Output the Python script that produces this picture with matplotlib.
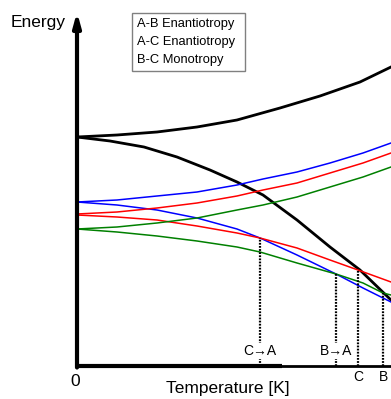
import numpy as np
import matplotlib.pyplot as plt
from matplotlib.patches import Rectangle

plt.rcParams['font.family'] = ['Liberation Sans', 'DejaVu Sans']

# curves (temperature, energy), arbitrary units
liqH_T = [0, 40, 80, 120, 160, 203, 243, 283, 314]
liqH_E = [229, 231, 234, 239, 246, 258, 270, 284, 299]
liqG_T = [0, 33, 67, 100, 133, 160, 186, 220, 253, 283, 314]
liqG_E = [229, 225, 219, 209, 196, 184, 171, 146, 119, 96, 66]

solH_T = [0, 40, 80, 120, 160, 186, 220, 253, 286, 314]
aH_E = [164, 166, 170, 174, 181, 187, 194, 203, 213, 223]
cH_E = [152, 154, 158, 163, 170, 176, 183, 193, 203, 213]
bH_E = [137, 139, 143, 148, 156, 161, 169, 179, 189, 199]

aG_T = [0, 40, 80, 120, 160, 183, 220, 259, 286, 314]
aG_E = [164, 161, 156, 148, 137, 128, 111, 92, 78, 64]
cG_T = [0, 40, 80, 120, 160, 183, 220, 253, 281, 314]
cG_E = [151, 149, 146, 140, 133, 128, 118, 106, 96, 84]
bG_T = [0, 40, 80, 120, 160, 183, 220, 259, 286, 306, 314]
bG_E = [137, 134, 130, 125, 119, 114, 103, 92, 83, 73, 71]

# transition temperatures and the energy where the dotted drop lines start
trans_T = [183, 259, 281, 306]
trans_E = [128, 92, 96, 73]
trans_lbl = ["C\u2192A", "B\u2192A"]
melt_lbl = ["C", "B"]
legend_lines = ["A-B Enantiotropy", "A-C Enantiotropy", "B-C Monotropy"]

fig = plt.figure(figsize=(3.91, 3.99), dpi=100)
ax = fig.add_axes([77/391, 33/399, 314/391, 354/399])
ax.set_xlim(0, 314)
ax.set_ylim(0, 354)
ax.axis("off")

ax.plot(liqH_T, liqH_E, color="black", lw=2.0)
ax.plot(liqG_T, liqG_E, color="black", lw=2.0)
ax.plot(solH_T, aH_E, color="#0000ff", lw=1.1)
ax.plot(aG_T, aG_E, color="#0000ff", lw=1.1)
ax.plot(solH_T, cH_E, color="#ff0000", lw=1.1)
ax.plot(cG_T, cG_E, color="#ff0000", lw=1.1)
ax.plot(solH_T, bH_E, color="#008000", lw=1.1)
ax.plot(bG_T, bG_E, color="#008000", lw=1.1)

for t, e in zip(trans_T, trans_E):
    ax.plot([t, t], [0, e], color="black", lw=1.6, ls=(0, (0.8, 0.6)))

# axes
ax.plot([0, 205], [0, 0], color="black", lw=3, clip_on=False, solid_capstyle="butt")
ax.plot([205, 314], [0, 0], color="black", lw=2, clip_on=False)
ax.annotate("", xy=(0, 354), xytext=(0, -1.5),
            arrowprops=dict(arrowstyle="-|>,head_width=0.22,head_length=0.8",
                            color="black", lw=3, shrinkA=0, shrinkB=0),
            annotation_clip=False)

ax.text(-39, 344, "Energy", fontsize=12.5, ha="center", va="center", clip_on=False)
ax.text(-2, -15, "0", fontsize=12.5, ha="center", va="center", clip_on=False)
ax.text(151, -23, "Temperature [K]", fontsize=12.5, ha="center", va="center", clip_on=False)

for t, s in zip(trans_T[:2], trans_lbl):
    ax.text(t, 15, s, fontsize=10, ha="center", va="center",
            bbox=dict(facecolor="white", edgecolor="none", pad=0.5))
for t, s in zip(trans_T[2:], melt_lbl):
    ax.text(t, -11, s, fontsize=10, ha="center", va="center", clip_on=False)

ax.add_patch(Rectangle((55, 295), 113, 58, facecolor="white",
                       edgecolor="#808080", lw=1, clip_on=False, zorder=3))
for i, s in enumerate(legend_lines):
    ax.text(60, 342 - 18*i, s, fontsize=9.3, ha="left", va="center", zorder=4)

fig.savefig("out.png", dpi=100)
